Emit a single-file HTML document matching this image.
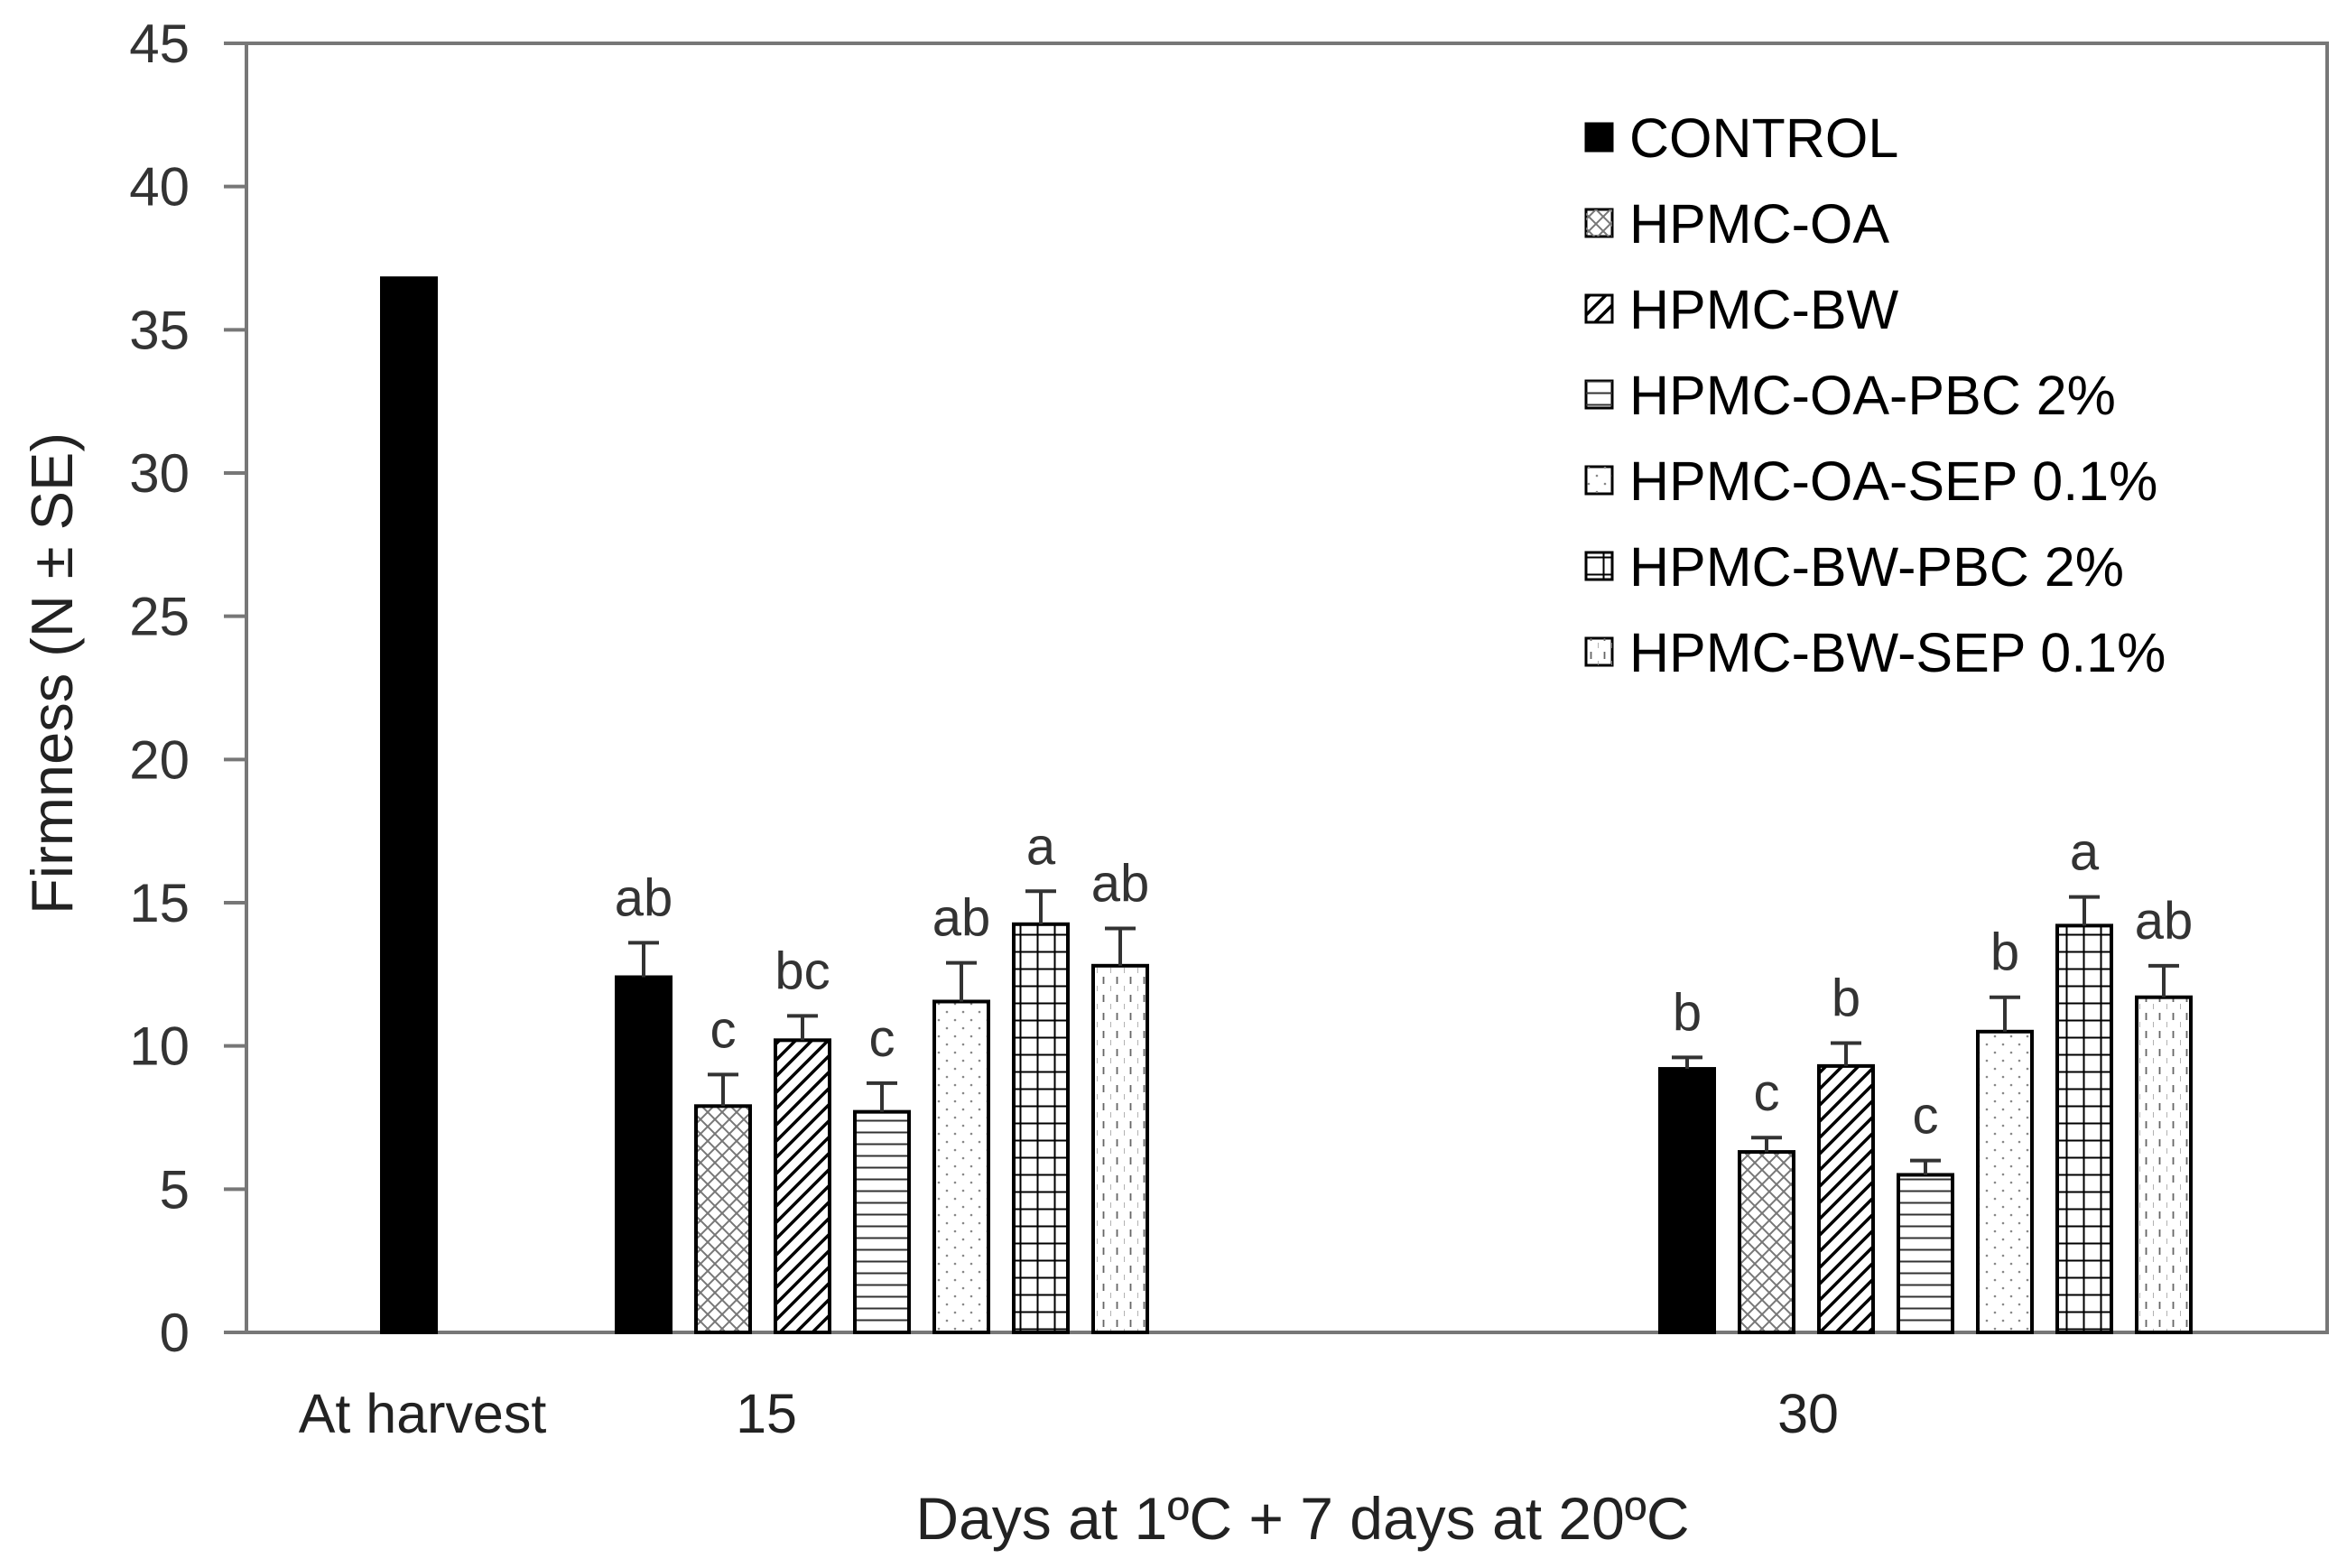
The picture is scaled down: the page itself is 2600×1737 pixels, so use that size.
<!DOCTYPE html>
<html><head><meta charset="utf-8"><style>
html,body{margin:0;padding:0;background:#fff;}
svg{display:block;font-family:"Liberation Sans",sans-serif;}
</style></head><body>
<svg id="chart" width="2600" height="1737" viewBox="0 0 2600 1737">
<defs>
<pattern id="p-cross" width="16" height="16" patternUnits="userSpaceOnUse"><path d="M0 0L16 16M16 0L0 16" stroke="#777" stroke-width="2"/></pattern>
<pattern id="p-diag" width="18" height="18" patternUnits="userSpaceOnUse"><path d="M-4 22L22 -4M-4 4L4 -4M14 22L22 14" stroke="#000" stroke-width="3.5"/></pattern>
<pattern id="p-horiz" width="10" height="13" patternUnits="userSpaceOnUse"><path d="M0 6.5H10" stroke="#333" stroke-width="2"/></pattern>
<pattern id="p-dots" width="18" height="18" patternUnits="userSpaceOnUse"><circle cx="5" cy="5" r="1.3" fill="#888"/><circle cx="14" cy="14" r="1.3" fill="#888"/></pattern>
<pattern id="p-grid" width="19" height="19" patternUnits="userSpaceOnUse"><path d="M0 9.5H19M9.5 0V19" stroke="#000" stroke-width="2"/></pattern>
<pattern id="p-dash" width="15" height="20" patternUnits="userSpaceOnUse"><path d="M7.5 2V10" stroke="#666" stroke-width="1.8"/><path d="M0 12V18" stroke="#999" stroke-width="1.5"/></pattern>
</defs>
<g id="plot"></g>
</svg>
<script>
const seriesNames=["CONTROL","HPMC-OA","HPMC-BW","HPMC-OA-PBC 2%","HPMC-OA-SEP 0.1%","HPMC-BW-PBC 2%","HPMC-BW-SEP 0.1%"];
const categories=["At harvest","15","30"];
const harvestValue=36.8;
const day15Values=[12.4,7.9,10.2,7.7,11.55,14.25,12.8];
const day15Errors=[1.2,1.1,0.85,1.0,1.35,1.15,1.3];
const day15Letters=["ab","c","bc","c","ab","a","ab"];
const day30Values=[9.2,6.3,9.3,5.5,10.5,14.2,11.7];
const day30Errors=[0.4,0.5,0.8,0.5,1.2,1.0,1.1];
const day30Letters=["b","c","b","c","b","a","ab"];
const yTicks=[0,5,10,15,20,25,30,35,40,45];
const fills=["#000","url(#p-cross)","url(#p-diag)","url(#p-horiz)","url(#p-dots)","url(#p-grid)","url(#p-dash)"];

const NS="http://www.w3.org/2000/svg";
const svg=document.getElementById('chart');
const L=273,R=2578,T=48,B=1476;
function y(v){return B-(v/45)*(B-T);}
function mk(tag,attrs,parent,text){const e=document.createElementNS(NS,tag);for(const k in attrs)e.setAttribute(k,attrs[k]);if(text!==undefined)e.textContent=text;(parent||svg).appendChild(e);return e;}

let e=mk('rect',{x:L,y:T,width:R-L,height:B-T,fill:'none',stroke:'#777','stroke-width':4});


yTicks.forEach(t=>{
  let tk=mk('line',{x1:248,x2:L,y1:y(t),y2:y(t),stroke:'#777','stroke-width':4});
  
  
  let lb=mk('text',{x:210,y:y(t)+21,'text-anchor':'end','font-size':60,fill:'#333'},null,String(t));
  
  
});

const barW=60, step=88;
function drawBar(x,v,fill,name){
  const b=mk('rect',{x:x,y:y(v),width:barW,height:B-y(v),fill:fill,stroke:'#000','stroke-width':4});
  
  
}
function drawGroup(x0,vals,errs,letters,gname){
  vals.forEach((v,i)=>{
    const x=x0+i*step;
    drawBar(x,v,fills[i],gname+'-bar-'+(i+1));
    const cx=x+barW/2, top=y(v+errs[i]);
    const er=mk('path',{d:`M${cx} ${y(v)}V${top}M${cx-17} ${top}H${cx+17}`,stroke:'#333','stroke-width':4,fill:'none'});
    
    
    const lt=mk('text',{x:cx,y:top-30,'text-anchor':'middle','font-size':58,fill:'#333'},null,letters[i]);
    
    
  });
}
drawBar(423,harvestValue,'#000','harvest-bar');
drawGroup(683,day15Values,day15Errors,day15Letters,'day15');
drawGroup(1839,day30Values,day30Errors,day30Letters,'day30');

const catX=[468,849,2003];
categories.forEach((c,i)=>{
  const t=mk('text',{x:catX[i],y:1587,'text-anchor':'middle','font-size':61,fill:'#222'},null,c);
  
  
});
e=mk('text',{x:1443,y:1705,'text-anchor':'middle','font-size':66,fill:'#222'},null,'Days at 1ºC + 7 days at 20ºC');


e=mk('text',{x:0,y:0,'text-anchor':'middle','font-size':65,fill:'#222',transform:'translate(80,746) rotate(-90)'},null,'Firmness (N ± SE)');



seriesNames.forEach((n,i)=>{
  const cy=152+i*95;
  const g=mk('g',{});
  
  
  mk('rect',{x:1757,y:cy-15,width:29,height:30,fill:i===0?'#000':'#fff',stroke:'#000','stroke-width':3},g);
  if(i>0) mk('rect',{x:1757,y:cy-15,width:29,height:30,fill:fills[i]},g);
  mk('text',{x:1805,y:cy+22,'font-size':61,fill:'#000'},g,n);
});
</script>
</body></html>
